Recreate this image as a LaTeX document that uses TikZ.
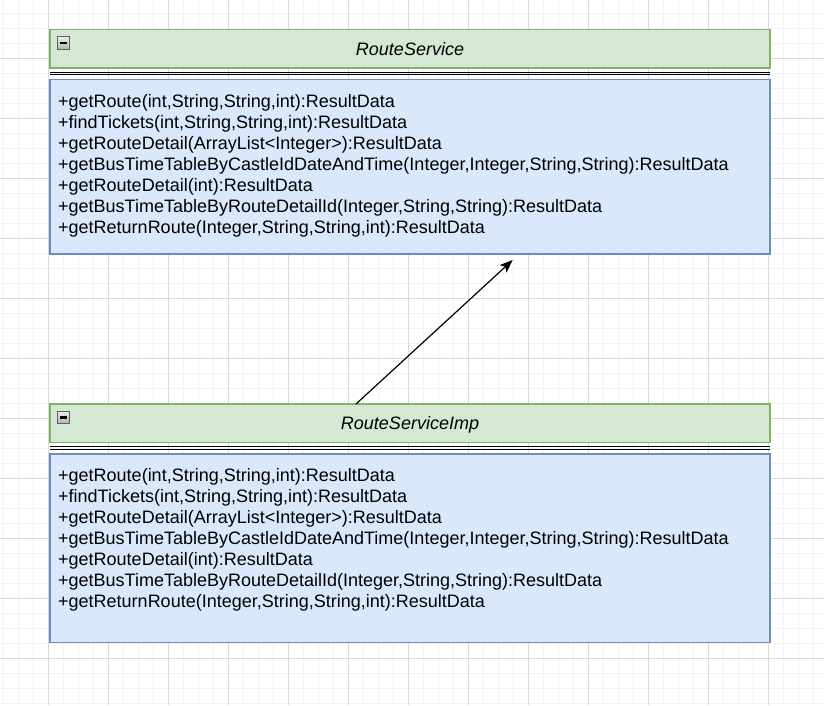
\documentclass[tikz,border=0pt]{standalone}
\usepackage{fontspec}
\setmainfont{Liberation Sans}
\usetikzlibrary{arrows.meta, positioning}

\definecolor{headFill}{HTML}{D5E8D4}
\definecolor{headLine}{HTML}{82B366}
\definecolor{bodyFill}{HTML}{DAE8FC}
\definecolor{bodyLine}{HTML}{6C8EBF}
\definecolor{gridMinor}{HTML}{F2F2F2}
\definecolor{gridMajor}{HTML}{D9D9D9}

\newcommand{\opList}{%
+getRoute(int,String,String,int):ResultData\\
+findTickets(int,String,String,int):ResultData\\
+getRouteDetail(ArrayList<Integer>):ResultData\\
+getBusTimeTableByCastleIdDateAndTime(Integer,Integer,String,String):ResultData\\
+getRouteDetail(int):ResultData\\
+getBusTimeTableByRouteDetailId(Integer,String,String):ResultData\\
+getReturnRoute(Integer,String,String,int):ResultData}

\begin{document}
\begin{tikzpicture}[
x=1pt, y=-1pt,
classhead/.style={
    draw=headLine,
    fill=headFill,
    line width=1.2pt,
    minimum width=720pt,
    minimum height=38.5pt,
    inner sep=0pt,
    outer sep=0pt,
    text height=12.9pt,
    text depth=0pt,
    font=\fontsize{18pt}{21pt}\selectfont\itshape
},
classbody/.style={
    draw=bodyLine,
    fill=bodyFill,
    line width=1.2pt,
    minimum width=720pt,
    outer sep=0pt
},
togglebox/.style={
    draw=gray!75!black,
    top color=gray!15,
    bottom color=gray!60,
    line width=0.8pt,
    minimum size=12.5pt,
    inner sep=0pt
},
ops/.style={align=left, inner sep=0pt, font=\fontsize{18pt}{21pt}\selectfont},
sepline/.style={line width=1pt},
arrow/.style={-{Stealth[length=13pt, width=10pt, inset=3pt]}, line width=1.2pt}
]

% Canvas and grid
\useasboundingbox (0,0) rectangle (824,705);
\fill[white] (0,0) rectangle (824,705);
\foreach \gx in {3,18,...,813} \draw[gridMinor, line width=1pt] (\gx,0) -- (\gx,705);
\foreach \gy in {13,28,...,703} \draw[gridMinor, line width=1pt] (0,\gy) -- (824,\gy);
\foreach \gx in {48,108,...,768} \draw[gridMajor, line width=1pt] (\gx,0) -- (\gx,705);
\foreach \gy in {58,118,...,658} \draw[gridMajor, line width=1pt] (0,\gy) -- (824,\gy);

% Interface class
\node[classhead] (svcHead) at (410,48.75) {RouteService};
\node[togglebox] (svcToggle) at ([xshift=13.5pt, yshift=-13.5pt]svcHead.north west) {\rule{7.5pt}{2.6pt}};
\draw[sepline] ([yshift=-4pt]svcHead.south west) -- ([yshift=-4pt]svcHead.south east);
\draw[sepline] ([yshift=-6.5pt]svcHead.south west) -- ([yshift=-6.5pt]svcHead.south east);
\node[classbody, minimum height=174.5pt, below=11.5pt of svcHead] (svcBody) {};
\node[ops, anchor=north west] (svcOps) at ([xshift=8pt, yshift=-14.5pt]svcBody.north west) {\opList};

% Implementation class
\node[classhead, below=150pt of svcBody] (implHead) {RouteServiceImp};
\node[togglebox] (implToggle) at ([xshift=13.5pt, yshift=-13.5pt]implHead.north west) {\rule{7.5pt}{2.6pt}};
\draw[sepline] ([yshift=-4pt]implHead.south west) -- ([yshift=-4pt]implHead.south east);
\draw[sepline] ([yshift=-6.5pt]implHead.south west) -- ([yshift=-6.5pt]implHead.south east);
\node[classbody, minimum height=188.5pt, below=11.5pt of implHead] (implBody) {};
\node[ops, anchor=north west] (implOps) at ([xshift=8pt, yshift=-14.5pt]implBody.north west) {\opList};

% Realization arrow
\coordinate (svcTip) at ([xshift=102.7pt, yshift=-6pt]svcBody.south);
\draw[arrow] ([xshift=-54pt]implHead.north) -- (svcTip);

\end{tikzpicture}
\end{document}
